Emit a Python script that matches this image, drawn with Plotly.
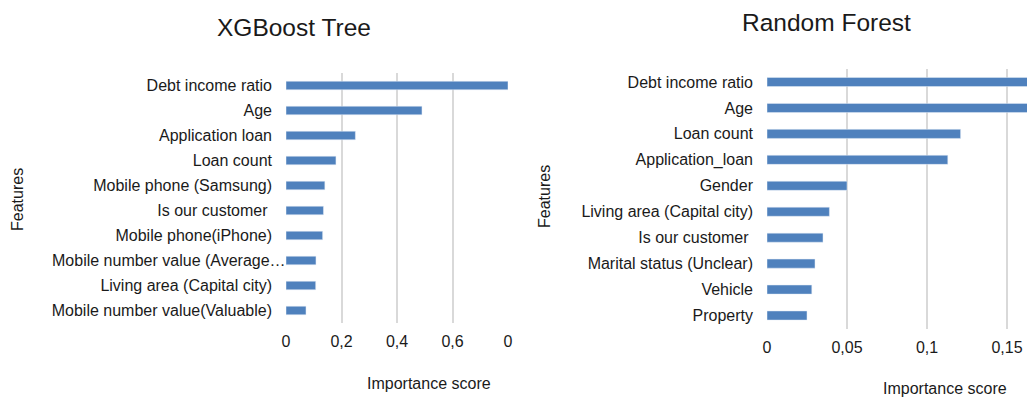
import plotly.graph_objects as go

# XGBoost Tree data
xgb_features = ["Debt income ratio", "Age", "Application loan", "Loan count",
                "Mobile phone (Samsung)", "Is our customer\u00a0", "Mobile phone(iPhone)",
                "Mobile number value (Average\u2026", "Living area (Capital city)",
                "Mobile number value(Valuable)"]
xgb_scores = [0.80, 0.49, 0.25, 0.18, 0.14, 0.135, 0.132, 0.108, 0.107, 0.072]
xgb_tickvals = [0, 0.2, 0.4, 0.6, 0.8]
xgb_ticktext = ["0", "0,2", "0,4", "0,6", "0"]

# Random Forest data
rf_features = ["Debt income ratio", "Age", "Loan count", "Application_loan", "Gender",
               "Living area (Capital city)", "Is our customer\u00a0", "Marital status (Unclear)",
               "Vehicle", "Property"]
rf_scores = [0.175, 0.17, 0.121, 0.113, 0.050, 0.039, 0.035, 0.030, 0.028, 0.025]
rf_tickvals = [0, 0.05, 0.1, 0.15]
rf_ticktext = ["0", "0,05", "0,1", "0,15"]

BAR = "#4f81bd"
GRID = "#d9d9d9"
FONT = "Liberation Sans, Arial, sans-serif"
TXT = "#1a1a1a"
TICK = 16

fig = go.Figure()
fig.add_trace(go.Bar(x=xgb_scores, y=xgb_features, orientation="h", marker_color=BAR,
                     width=0.34, xaxis="x", yaxis="y", showlegend=False))
fig.add_trace(go.Bar(x=rf_scores, y=rf_features, orientation="h", marker_color=BAR,
                     width=0.35, xaxis="x2", yaxis="y2", showlegend=False))

H = 398
W = 1027
axis_common = dict(showline=False, zeroline=False, ticks="", automargin=False,
                   tickfont=dict(size=TICK, color=TXT, family=FONT))

# the truncated label overhangs the plot edge in the reference: draw it as an annotation
long_label = "Mobile number value (Average\u2026"
xgb_ticktext_y = ["" if f == long_label else f for f in xgb_features]

fig.update_layout(
    width=W, height=H,
    margin=dict(l=0, r=0, t=0, b=0),
    paper_bgcolor="white", plot_bgcolor="white",
    font=dict(family=FONT, color=TXT),
    xaxis=dict(domain=[286 / W, 508 / W], range=[0, 0.8], anchor="y",
               tickvals=xgb_tickvals, ticktext=xgb_ticktext, ticklabelstandoff=7,
               showgrid=True, gridcolor=GRID, gridwidth=2, **axis_common),
    yaxis=dict(domain=[1 - 323 / H, 1 - 73 / H], anchor="x",
               categoryorder="array", categoryarray=xgb_features,
               tickvals=xgb_features, ticktext=xgb_ticktext_y,
               range=[9.5, -0.5], showgrid=False, ticklabelstandoff=13, **axis_common),
    xaxis2=dict(domain=[767 / W, 1.0], range=[0, 0.1625], anchor="y2",
                tickvals=rf_tickvals, ticktext=rf_ticktext, ticklabelstandoff=7,
                showgrid=True, gridcolor=GRID, gridwidth=2, **axis_common),
    yaxis2=dict(domain=[1 - 328.5 / H, 1 - 69 / H], anchor="x2",
                categoryorder="array", categoryarray=rf_features,
                range=[9.5, -0.5], showgrid=False, ticklabelstandoff=13, **axis_common),
)

fig.add_annotation(text=long_label, x=288 / W, y=long_label, xref="paper", yref="y",
                   showarrow=False, xanchor="right", yanchor="middle",
                   font=dict(size=TICK, family=FONT, color=TXT))

def ann(text, x, y, size, angle=0):
    fig.add_annotation(text=text, x=x / W, y=1 - y / H, xref="paper", yref="paper",
                       showarrow=False, textangle=angle, xanchor="center", yanchor="middle",
                       font=dict(size=size, family=FONT, color=TXT))

ann("XGBoost Tree", 294, 27, 24.5)
ann("Random Forest", 826, 23, 24.5)
ann("Features", 18, 200, TICK, -90)
ann("Features", 544, 197, TICK, -90)
ann("Importance score", 429, 383, TICK)
ann("Importance score", 945, 388, TICK)

fig.write_html("out.html", config={"displayModeBar": False},
               post_script="document.body.style.margin='0';")
